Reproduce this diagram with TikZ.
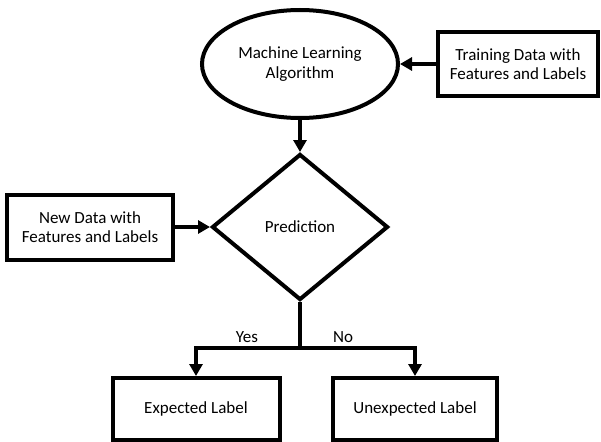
\documentclass[tikz,border=0pt]{standalone}
\usepackage{fontspec}
\setmainfont{Carlito}
\usetikzlibrary{shapes.geometric,arrows.meta}
\begin{document}
\begin{tikzpicture}[x=1pt,y=-1pt,
  every node/.style={font=\fontsize{17}{19.5}\selectfont, align=center, inner sep=0pt},
  conn/.style={line width=4pt, -{Triangle[length=12pt,width=13pt]}},
  plain/.style={line width=4pt}]
\useasboundingbox (0,0) rectangle (601,441);
\node[draw, ellipse, line width=4pt, minimum width=196, minimum height=108] (ml) at (300,64) {Machine Learning\\Algorithm};
\node[draw, line width=4pt, minimum width=160, minimum height=64] (train) at (518,64) {Training Data with\\Features and Labels};
\node[draw, diamond, line width=4pt, minimum width=176, minimum height=146, aspect=1.2] (pred) at (300,227) {Prediction};
\node[draw, line width=4pt, minimum width=166, minimum height=65] (new) at (90,227) {New Data with\\Features and Labels};
\node[draw, line width=4pt, minimum width=167, minimum height=62] (exp) at (196,409) {Expected Label};
\node[draw, line width=4pt, minimum width=164, minimum height=62] (unexp) at (415,409) {Unexpected Label};
\coordinate (split) at (300,348);
\coordinate (yl) at (exp.north |- split);
\coordinate (nl) at (unexp.north |- split);
\draw[conn] (train.west) -- (ml.east);
\draw[conn] (ml.south) -- (pred.north);
\draw[conn] (new.east) -- (pred.west);
\draw[plain] (pred.south) -- (split);
\draw[plain] ([xshift=-2pt]yl) -- ([xshift=2pt]nl);
\draw[conn] (yl) -- (exp.north);
\draw[conn] (nl) -- (unexp.north);
\node (yes) at (247,337) {Yes};
\node (no) at (343,337) {No};
\end{tikzpicture}
\end{document}
